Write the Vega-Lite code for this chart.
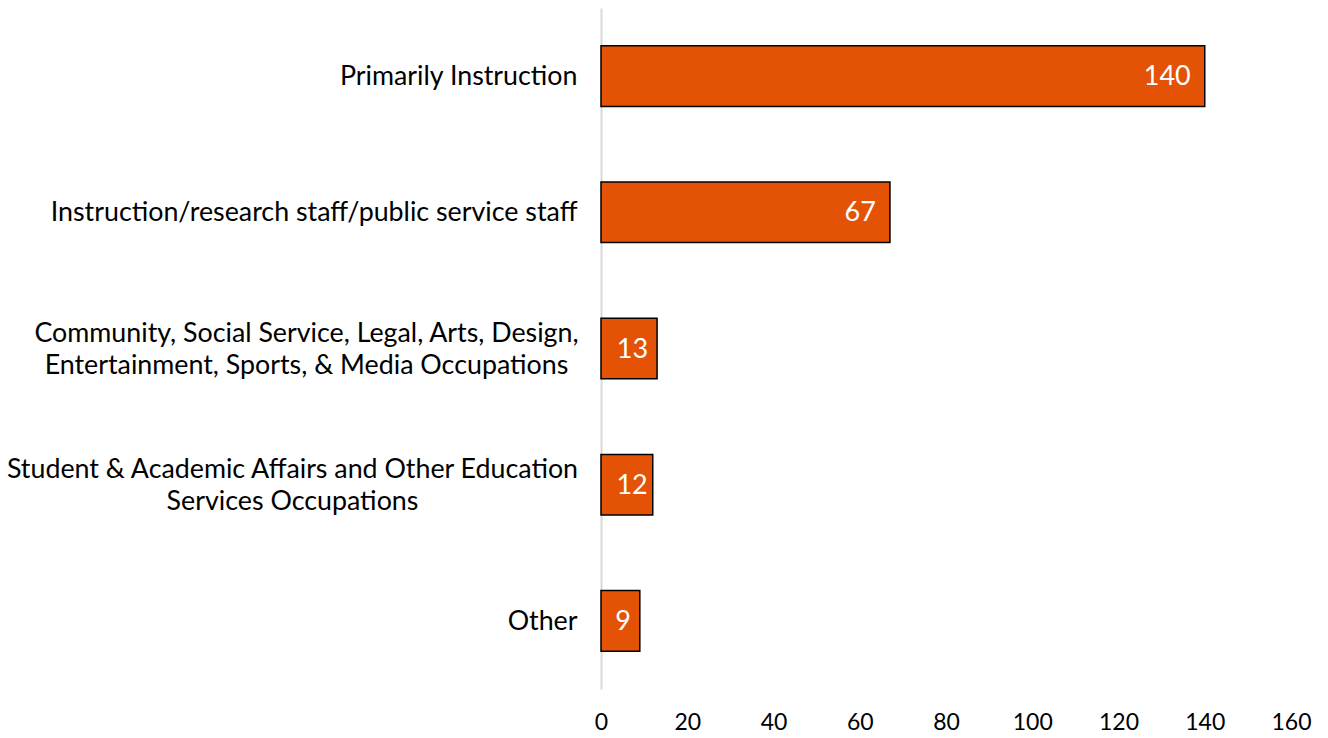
{
  "$schema": "https://vega.github.io/schema/vega-lite/v6.json",
  "autosize": {"type": "none"},
  "width": 690,
  "height": 681,
  "padding": {"left": 601, "top": 8, "right": 37, "bottom": 49},
  "background": "white",
  "config": {"view": {"stroke": null}, "font": "Lato"},
  "data": {"values": [
    {"cat": "Primarily Instruction", "value": 140, "order": 1},
    {"cat": "Instruction/research staff/public service staff", "value": 67, "order": 2},
    {"cat": "Community, Social Service, Legal, Arts, Design, Entertainment, Sports, & Media Occupations", "value": 13, "order": 3},
    {"cat": "Student & Academic Affairs and Other Education Services Occupations", "value": 12, "order": 4},
    {"cat": "Other", "value": 9, "order": 5}
  ]},
  "encoding": {
    "y": {
      "field": "cat", "type": "nominal",
      "sort": {"field": "order", "order": "ascending"},
      "scale": {"paddingInner": 0.555, "paddingOuter": 0.2775},
      "axis": {
        "title": null,
        "ticks": false,
        "tickSize": 0,
        "domain": true,
        "domainColor": "#d9d9d9",
        "domainWidth": 2,
        "labelFont": "Lato",
        "labelFontSize": 26.8,
        "labelColor": "#000000",
        "labelPadding": 24,
        "labelLineHeight": 32,
        "labelLimit": 700,
        "labelAlign": {"condition": {"test": "indexof(datum.value, 'Community') >= 0 || indexof(datum.value, 'Student') >= 0", "value": "center"}, "value": "right"},
        "labelOffset": {"condition": {"test": "indexof(datum.value, 'Community') >= 0 || indexof(datum.value, 'Student') >= 0", "value": -15}, "value": 1},
        "labelExpr": "indexof(datum.label, 'Community') >= 0 ? ['Community, Social Service, Legal, Arts, Design,', 'Entertainment, Sports, & Media Occupations'] : indexof(datum.label, 'Student') >= 0 ? ['Student & Academic Affairs and Other Education', 'Services Occupations'] : datum.label",
        "encoding": {"labels": {"dx": {"condition": [{"test": "indexof(datum.value, 'Community') >= 0", "value": -271}, {"test": "indexof(datum.value, 'Student') >= 0", "value": -285}], "value": 0}}}
      }
    },
    "x": {
      "field": "value", "type": "quantitative",
      "scale": {"domain": [0, 160], "nice": false},
      "axis": {
        "title": null,
        "values": [0, 20, 40, 60, 80, 100, 120, 140, 160],
        "grid": false,
        "domain": false,
        "ticks": false,
        "tickSize": 0,
        "labelFlush": false,
        "labelFont": "Lato",
        "labelFontSize": 23,
        "labelColor": "#000000",
        "labelPadding": 22
      }
    }
  },
  "layer": [
    {"mark": {"type": "bar", "color": "#E35205", "stroke": "#000000", "strokeWidth": 1.5}},
    {"mark": {"type": "text", "align": "right", "baseline": "middle", "dx": {"expr": "datum.value == 13 ? -9 : datum.value == 12 ? -5 : datum.value == 9 ? -9 : -14"}, "dy": 1, "color": "#ffffff", "font": "Lato", "fontSize": 27},
     "encoding": {"text": {"field": "value", "type": "quantitative"}}}
  ]
}
